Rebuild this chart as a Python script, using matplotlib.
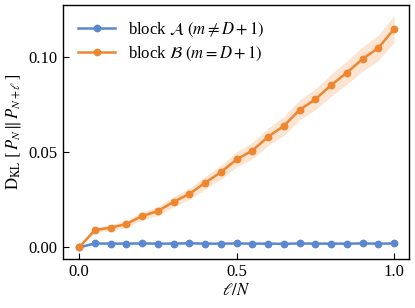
import numpy as np
import matplotlib
matplotlib.use("Agg")
import matplotlib.pyplot as plt

plt.rcParams['font.family'] = ['Liberation Serif', 'DejaVu Serif']
plt.rcParams['mathtext.fontset'] = 'stix'
plt.rcParams['font.size'] = 12

# x values (l/N)
frac = [0.0, 0.05, 0.10, 0.15, 0.20, 0.25, 0.30, 0.35, 0.40, 0.45, 0.50,
        0.55, 0.60, 0.65, 0.70, 0.75, 0.80, 0.85, 0.90, 0.95, 1.0]

# block A (m != D+1)
kl_a = [0.0, 0.0021, 0.0020, 0.0020, 0.0021, 0.0020, 0.0020, 0.0022, 0.0020, 0.0020, 0.0021,
        0.0020, 0.0020, 0.0019, 0.0021, 0.0020, 0.0020, 0.0020, 0.0021, 0.0020, 0.0021]
err_a = [0.0, 0.0004, 0.0004, 0.0004, 0.0004, 0.0004, 0.0004, 0.0004, 0.0004, 0.0004, 0.0004,
         0.0004, 0.0004, 0.0004, 0.0004, 0.0004, 0.0004, 0.0004, 0.0004, 0.0004, 0.0004]

# block B (m = D+1)
kl_b = [0.0, 0.0091, 0.0104, 0.0123, 0.0165, 0.0191, 0.0240, 0.0281, 0.0340, 0.0395, 0.0463,
        0.0509, 0.0582, 0.0639, 0.0723, 0.0779, 0.0853, 0.0919, 0.0991, 0.1049, 0.1149]
err_b = [0.0, 0.0012, 0.0015, 0.0018, 0.0021, 0.0024, 0.0027, 0.0030, 0.0033, 0.0036, 0.0040,
         0.0043, 0.0046, 0.0049, 0.0052, 0.0055, 0.0058, 0.0061, 0.0064, 0.0067, 0.0070]

blue = '#5b87d0'
orange = '#ee8630'

fig = plt.figure(figsize=(4.15, 3.08), dpi=100)
ax = fig.add_axes([0.151, 0.159, 0.834, 0.825])

x = np.array(frac)
a = np.array(kl_a)
b = np.array(kl_b)
ax.fill_between(x, a - np.array(err_a), a + np.array(err_a), color=blue, alpha=0.22, lw=0)
ax.fill_between(x, b - np.array(err_b), b + np.array(err_b), color=orange, alpha=0.22, lw=0)
ax.plot(x, a, '-o', color=blue, lw=1.8, ms=4.6, label=r'block $\mathcal{A}$ $(m\neq D+1)$')
ax.plot(x, b, '-o', color=orange, lw=1.8, ms=4.6, label=r'block $\mathcal{B}$ $(m=D+1)$')

ax.set_xlim(-0.052, 1.0465)
ax.set_ylim(-0.0061, 0.1275)
ax.set_xticks([0.0, 0.5, 1.0])
ax.set_yticks([0.0, 0.05, 0.10])
ax.set_yticklabels(['0.00', '0.05', '0.10'])
ax.tick_params(direction='in', length=4, width=0.8)
for s in ax.spines.values():
    s.set_linewidth(1.0)
ax.set_xlabel(r'$\ell/N$', labelpad=2)
ax.set_ylabel(r'$\mathrm{D}_{\mathrm{KL}}\ [\,P_N\,\|\,P_{N+\ell}\,]$', labelpad=4)
ax.legend(loc='upper left', frameon=False, handlelength=2.2, borderaxespad=0.55,
          labelspacing=0.35)

fig.savefig('out.png', dpi=100)
